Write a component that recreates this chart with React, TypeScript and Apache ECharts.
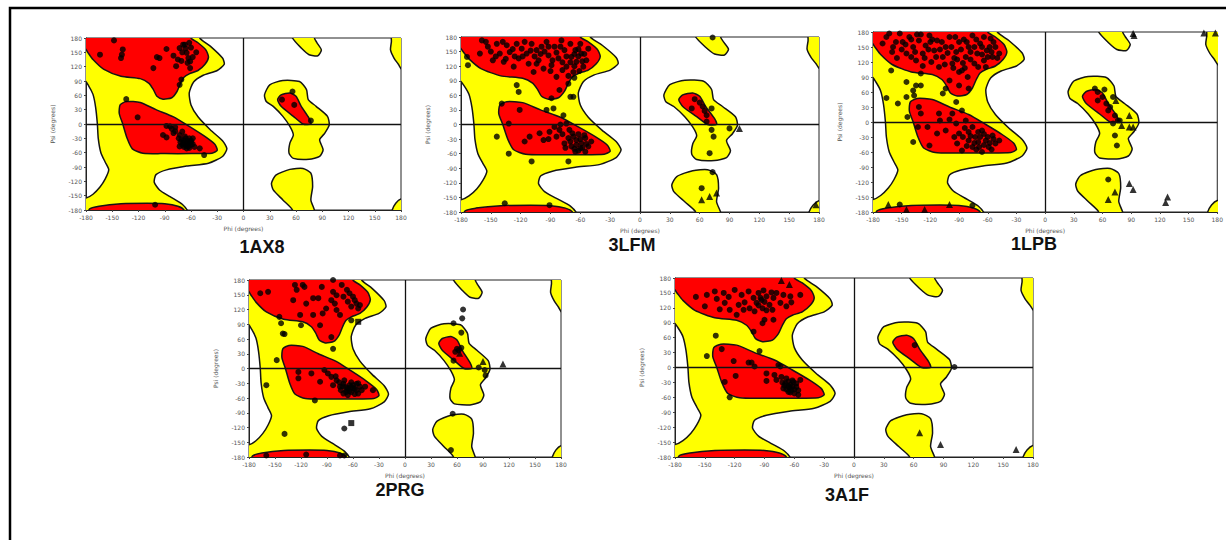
import React, { useEffect, useRef } from "react";
import * as echarts from "echarts";

// ---------- Ramachandran region outlines (phi, psi) ----------
const ALLOWED_LEFT: number[][] = [
  [-200, 200], [-52, 200], [-50, 180], [-38, 163], [-24, 138], [-22, 125], [-30, 112], [-46, 102],
  [-57, 88], [-62, 65], [-60, 40], [-52, 15], [-38, -12], [-24, -35], [-19, -52], [-24, -68],
  [-40, -82], [-65, -88], [-88, -96], [-100, -106], [-102, -122], [-96, -138], [-84, -152],
  [-70, -168], [-63, -185], [-62, -200], [-200, -200], [-200, -158], [-180, -155], [-172, -147],
  [-164, -132], [-158, -115], [-154, -96], [-158, -80], [-163, -60], [-166, -30], [-167, 0],
  [-169, 35], [-172, 62], [-177, 80], [-182, 92], [-200, 95],
];
const ALLOWED_TOP_R: number[][] = [
  [55, 200], [56, 180], [66, 159], [75, 145], [85, 143], [89, 155], [84, 170], [81, 180], [82, 200],
];
const ALLOWED_BOTTOM_R: number[][] = [
  [32, -124], [37, -107], [53, -95], [68, -93], [77, -103], [79, -131], [77, -159], [81, -180],
  [82, -200], [55, -200], [56, -180], [45, -159], [34, -138],
];
const ALLOWED_ALPHA_L: number[][] = [
  [24, 61], [30, 82], [45, 91], [64, 89], [72, 72], [74, 51], [83, 37], [96, 16], [98, -2],
  [93, -19], [87, -33], [91, -54], [87, -68], [75, -74], [57, -72], [52, -61], [53, -40],
  [57, -23], [53, -5], [45, 16], [34, 37], [26, 47],
];
const ALLOWED_CORNER_TOP: number[][] = [
  [200, 200], [170, 200], [169, 172], [168, 155], [172, 138], [177, 125], [182, 112], [200, 110],
];
const ALLOWED_CORNER_BOTTOM: number[][] = [
  [200, -200], [168, -200], [170, -180], [174, -166], [180, -157], [200, -152],
];
const CORE_BETA: number[][] = [
  [-200, 200], [-62, 200], [-60, 180], [-52, 170], [-43, 155], [-40, 140], [-44, 125], [-52, 112],
  [-62, 105], [-68, 98], [-72, 85], [-76, 68], [-82, 55], [-92, 52], [-99, 58], [-103, 72],
  [-108, 85], [-118, 95], [-140, 100], [-160, 115], [-172, 135], [-178, 150], [-182, 160], [-200, 162],
];
const CORE_ALPHA_R: number[][] = [
  [-141, 40], [-134, 47], [-118, 45], [-100, 30], [-80, 15], [-62, -5], [-45, -25], [-33, -42],
  [-30, -55], [-36, -61], [-60, -62], [-90, -62], [-115, -61], [-127, -52], [-133, -30],
  [-138, 0], [-142, 22],
];
const CORE_BOTTOM: number[][] = [
  [-178, -200], [-176, -178], [-165, -172], [-140, -167], [-110, -166], [-90, -167], [-75, -172],
  [-68, -180], [-66, -200],
];
const CORE_ALPHA_L: number[][] = [
  [39, 51], [43, 61], [53, 65], [60, 58], [66, 37], [75, 12], [77, 0], [68, 0], [57, 16], [43, 37],
];

// ---------- Residues per structure ----------
const TITLES = ["1AX8", "3LFM", "1LPB", "2PRG", "3A1F"];

const P1_CIRCLES: number[][] = [
  [-148, 175], [-164, 145], [-138, 156], [-139, 145], [-140, 138], [-103, 117], [-99, 140], [-96, 138],
  [-88, 157], [-80, 143], [-77, 121], [-73, 159], [-75, 135], [-71, 132], [-67, 166], [-65, 149],
  [-63, 138], [-61, 131], [-61, 117], [-54, 150], [-71, 93], [-73, 82], [-69, 166],
  [-70, 150], [-66, 158], [-60, 160], [-62, 170], [-58, 140], [-64, 128],
  [-134, 52], [-121, 14], [-101, -169], [-88, -4], [-84, -5], [-78, -7], [-92, -23], [-88, -28],
  [-80, -19], [-73, -23], [-71, -33], [-69, -40], [-65, -40], [-63, -47], [-61, -37], [-60, -44],
  [-67, -26], [-58, -30], [-73, -47], [-50, -51], [-45, -65], [-65, -51], [-70, -16], [-62, -30],
  [-66, -45], [-60, -38], [-68, -35], [-64, -42], [-70, -44], [-62, -50], [-58, -42], [-66, -30],
  [-72, -38], [-60, -35], [-56, -48], [-74, -30], [-78, -15], [-82, -10], [-64, -36], [-68, -48],
  [56, 68], [44, 51], [58, 40], [77, 7],
];
const P1_TRIANGLES: number[][] = [];

const P2_CIRCLES: number[][] = [
  [-174, 139], [-159, 173], [-161, 146], [-153, 160], [-148, 132], [-144, 166], [-141, 146], [-137, 129],
  [-134, 163], [-131, 149], [-127, 119], [-124, 166], [-122, 136], [-119, 156], [-114, 146], [-112, 125],
  [-109, 166], [-107, 108], [-104, 153], [-102, 132], [-99, 160], [-97, 115], [-94, 170], [-92, 142],
  [-89, 122], [-86, 160], [-84, 98], [-82, 136], [-81, 71], [-79, 173], [-76, 153], [-74, 119],
  [-72, 84], [-70, 166], [-69, 139], [-67, 108], [-65, 153], [-64, 129], [-60, 166], [-59, 146],
  [-57, 119], [-54, 132], [-52, 156], [-67, 57], [-89, 54], [-124, 81], [-122, 67], [-173, 122],
  [-118, 140], [-106, 140], [-96, 150], [-88, 132], [-78, 128], [-62, 140], [-56, 145], [-66, 120],
  [-150, 150], [-145, 140], [-138, 170], [-128, 155], [-126, 140], [-116, 170], [-110, 152], [-100, 145],
  [-92, 160], [-84, 148], [-80, 160], [-74, 140], [-70, 128], [-66, 145], [-62, 155], [-58, 130],
  [-61, 110], [-72, 100], [-66, 96], [-135, 135], [-155, 170], [-104, 125], [-90, 110], [-78, 112],
  [-139, 43], [-121, 30], [-132, 2], [-144, -25], [-132, -60], [-116, -35], [-109, -76], [-111, -25],
  [-101, -18], [-94, 30], [-87, 33], [-77, 19], [-74, 2], [-71, -11], [-67, -25], [-64, -32],
  [-59, -39], [-55, -28], [-52, -45], [-49, -35], [-60, -49], [-65, -56], [-72, -76], [-81, -11],
  [-84, -25], [-91, -15], [-97, -32], [-76, -39], [-69, -45], [-55, -56], [-62, -20], [-70, -35],
  [-64, -42], [-58, -48], [-66, -50], [-72, -28], [-78, -20], [-60, -30], [-54, -40], [-68, -18],
  [-75, -48], [-62, -54], [-86, -5], [-80, 0], [-92, -30], [-56, -22],
  [-136, -162], [-91, -166], [-70, 57],
  [55, 52], [52, 33], [63, 37], [67, 19], [72, 33], [67, 6], [72, -11], [74, -25], [70, -59],
  [90, -8], [73, -98], [62, -131], [73, 179], [60, 45], [65, 28],
];
const P2_TRIANGLES: number[][] = [
  [100, -8], [77, -141], [62, -155], [70, -148], [177, -165],
];

const P3_CIRCLES: number[][] = [
  [-166, 170], [-159, 150], [-152, 177], [-149, 160], [-145, 137], [-142, 170], [-138, 150], [-135, 123],
  [-132, 163], [-128, 137], [-125, 153], [-121, 173], [-119, 120], [-116, 143], [-113, 163], [-111, 110],
  [-107, 130], [-104, 150], [-100, 170], [-97, 117], [-93, 140], [-90, 160], [-87, 103], [-83, 130],
  [-80, 150], [-76, 173], [-74, 117], [-71, 137], [-68, 157], [-64, 123], [-61, 143], [-57, 167],
  [-55, 130], [-52, 150], [-48, 137], [-81, 90], [-80, 67], [-90, 73], [-163, 177], [-170, 157],
  [-130, 97], [-161, 103], [-100, 83], [-150, 145], [-140, 130], [-120, 160], [-110, 145], [-95, 128],
  [-85, 165], [-78, 140], [-66, 135], [-58, 150], [-130, 175], [-155, 128], [-105, 115], [-62, 110],
  [-156, 160], [-146, 155], [-136, 140], [-134, 175], [-126, 128], [-122, 145], [-118, 165], [-114, 130],
  [-108, 160], [-102, 138], [-98, 150], [-94, 170], [-92, 125], [-88, 145], [-86, 118], [-82, 160],
  [-78, 125], [-74, 150], [-72, 165], [-70, 110], [-66, 150], [-64, 170], [-60, 130], [-56, 140],
  [-54, 160], [-50, 128], [-90, 100], [-84, 108], [-96, 108], [-140, 165], [-160, 140], [-128, 112],
  [-166, 48], [-154, 37], [-145, 80], [-145, 50], [-138, 63], [-135, 73], [-130, 73], [-137, 53],
  [-107, 57], [-104, 67], [-93, 40], [-144, 10], [-138, -40],
  [-132, 30], [-130, 17], [-133, -10], [-123, -10], [-121, -47], [-111, 17], [-110, 3], [-104, -17],
  [-97, 17], [-93, -3], [-90, -23], [-87, 23], [-83, 3], [-80, -37], [-76, -10], [-73, -30],
  [-69, -50], [-66, -17], [-62, -37], [-59, -50], [-55, -27], [-52, -43], [-48, -37], [-92, -43],
  [-87, -57], [-76, -50], [-66, -60], [-113, -23], [-70, -40], [-60, -30], [-80, -20], [-64, -46],
  [-86, -30], [-82, -48], [-78, -28], [-74, -42], [-72, -55], [-68, -30], [-64, -24], [-58, -42],
  [-56, -55], [-54, -34], [-84, -12], [-95, -30], [-100, 5], [-70, -20],
  [-152, -165], [-76, -167],
  [52, 67], [55, 60], [62, 65], [71, 50], [55, 43], [64, 37], [66, 23], [73, 13], [78, 3], [71, -3],
  [76, 3], [73, -27], [75, -47], [66, -115], [60, 50], [68, 30],
];
const P3_TRIANGLES: number[][] = [
  [-164, -165], [-145, -175], [-126, -175], [-100, -165], [74, 43], [80, -7], [88, 13], [88, -10],
  [92, -10], [73, -140], [66, -155], [88, -123], [92, -135], [128, -150], [126, -161], [92, 177],
  [93, 173], [166, 178], [178, 178],
];

const P4_CIRCLES: number[][] = [
  [-167, 153], [-158, 156], [-145, 105], [-143, 92], [-141, 71], [-129, 139], [-127, 170], [-125, 160],
  [-121, 109], [-120, 88], [-118, 170], [-116, 166], [-114, 132], [-106, 143], [-106, 109], [-100, 143],
  [-98, 88], [-96, 166], [-95, 112], [-91, 122], [-85, 139], [-83, 180], [-83, 156], [-81, 132],
  [-79, 119], [-79, 149], [-75, 109], [-73, 170], [-71, 146], [-67, 160], [-66, 136], [-64, 153],
  [-62, 126], [-60, 146], [-58, 139], [-56, 132], [-54, 122], [-52, 129], [-62, 98], [-85, 64],
  [-83, 40], [-139, 70], [-148, 17], [-160, -34], [-123, -7], [-123, -20], [-108, -10], [-104, -65],
  [-139, -133], [-70, -122], [-160, -177], [-114, -175], [-75, -177], [-70, -177],
  [-93, -3], [-89, -10], [-85, -17], [-83, -34], [-79, -24], [-75, -37], [-71, -31], [-67, -44],
  [-64, -34], [-62, -48], [-58, -41], [-54, -51], [-52, -37], [-56, -31], [-66, -54], [-71, -51],
  [-98, -27], [-37, -44], [-46, -37], [-60, -40], [-68, -38], [-62, -28],
  [-74, -44], [-70, -24], [-66, -40], [-64, -46], [-60, -34], [-58, -52], [-72, -36], [-76, -28],
  [-68, -48], [-56, -44], [-62, -38], [-80, -16], [-50, -44], [-54, -30],
  [67, 120], [66, 102], [65, 73], [56, 92], [60, 40], [58, 34], [62, 37], [65, 42], [56, 16],
  [85, 2], [92, -3], [93, -14], [55, -92], [53, -166],
];
const P4_TRIANGLES: number[][] = [
  [63, 31], [90, 14], [113, 9],
];
const P4_SQUARES: number[][] = [
  [-54, 95], [-62, -111],
];

const P5_CIRCLES: number[][] = [
  [-159, 142], [-148, 146], [-150, 123], [-140, 153], [-138, 138], [-135, 117], [-131, 150], [-130, 130],
  [-126, 142], [-125, 116], [-120, 156], [-118, 106], [-116, 126], [-113, 146], [-111, 116], [-110, 131],
  [-106, 153], [-105, 119], [-101, 140], [-100, 113], [-98, 130], [-96, 150], [-93, 136], [-92, 119],
  [-91, 155], [-88, 143], [-85, 126], [-83, 151], [-82, 116], [-81, 140], [-78, 150], [-74, 130],
  [-71, 146], [-68, 123], [-64, 143], [-63, 131], [-54, 146], [-92, 89], [-90, 96], [-81, 96],
  [-101, 72], [-139, 64], [-96, 125], [-90, 132], [-88, 115], [-94, 140],
  [-148, 23], [-133, 37], [-121, 13], [-119, -17], [-130, -29], [-125, -60], [-106, 10], [-103, 10],
  [-100, 2], [-95, 33], [-88, -12], [-88, -27], [-76, 5], [-74, 2], [-80, -15], [-78, -25],
  [-73, -19], [-69, -32], [-68, -22], [-64, -35], [-63, -45], [-61, -29], [-58, -39], [-66, -49],
  [-60, -52], [-56, -55], [-71, -42], [-54, -25], [-65, -40], [-62, -38],
  [-70, -36], [-66, -28], [-60, -44], [-64, -50], [-58, -32], [-68, -44], [-62, -26], [-72, -30],
  [-56, -46], [-66, -38],
  [61, 45], [101, 1],
];
const P5_TRIANGLES: number[][] = [
  [-73, 175], [-65, 167], [66, -131], [87, -155], [163, -165],
];

const PLOT_CIRCLES = [P1_CIRCLES, P2_CIRCLES, P3_CIRCLES, P4_CIRCLES, P5_CIRCLES];
const PLOT_TRIANGLES = [P1_TRIANGLES, P2_TRIANGLES, P3_TRIANGLES, P4_TRIANGLES, P5_TRIANGLES];
const PLOT_SQUARES = [[], [], [], P4_SQUARES, []];

// ---------- Layout (pixels) ----------
const GRIDS = [
  { left: 86, top: 38, width: 315, height: 172, tx: 262, ty: 247 },
  { left: 461, top: 37, width: 358, height: 175, tx: 632, ty: 245 },
  { left: 873, top: 32, width: 346, height: 180, tx: 1034, ty: 244 },
  { left: 249, top: 280, width: 312, height: 177, tx: 400, ty: 490 },
  { left: 675, top: 278, width: 358, height: 179, tx: 847, ty: 495 },
];

const YELLOW = "#ffff00";
const RED = "#ff0000";
const REGIONS = [
  { poly: ALLOWED_LEFT, fill: YELLOW },
  { poly: ALLOWED_TOP_R, fill: YELLOW },
  { poly: ALLOWED_BOTTOM_R, fill: YELLOW },
  { poly: ALLOWED_ALPHA_L, fill: YELLOW },
  { poly: ALLOWED_CORNER_TOP, fill: YELLOW },
  { poly: ALLOWED_CORNER_BOTTOM, fill: YELLOW },
  { poly: CORE_BETA, fill: RED },
  { poly: CORE_ALPHA_R, fill: RED },
  { poly: CORE_BOTTOM, fill: RED },
  { poly: CORE_ALPHA_L, fill: RED },
];

function buildOption() {
  const grid: any[] = [];
  const xAxis: any[] = [];
  const yAxis: any[] = [];
  const series: any[] = [];
  const graphic: any[] = [];

  const labelStyle = { fontSize: 6, color: "#555", fontFamily: "DejaVu Sans" };
  const nameStyle = { fontSize: 6, color: "#555", fontFamily: "DejaVu Sans" };

  GRIDS.forEach((g, i) => {
    grid.push({
      left: g.left, top: g.top, width: g.width, height: g.height,
      show: true, backgroundColor: "#fff", borderColor: "#222", borderWidth: 1,
    });
    xAxis.push({
      gridIndex: i, type: "value", min: -180, max: 180, interval: 30,
      name: "Phi (degrees)", nameLocation: "middle", nameGap: 15, nameTextStyle: nameStyle,
      axisLine: { show: true, onZero: false, lineStyle: { color: "#222", width: 1 } },
      axisTick: { show: true, length: 2, lineStyle: { color: "#444" } },
      axisLabel: { ...labelStyle, margin: 4 },
      splitLine: { show: false },
    });
    yAxis.push({
      gridIndex: i, type: "value", min: -180, max: 180, interval: 30,
      name: "Psi (degrees)", nameLocation: "middle", nameGap: 31, nameTextStyle: nameStyle,
      axisLine: { show: true, onZero: false, lineStyle: { color: "#222", width: 1 } },
      axisTick: { show: true, length: 2, lineStyle: { color: "#444" } },
      axisLabel: { ...labelStyle, margin: 4 },
      splitLine: { show: false },
    });
    series.push({
      type: "custom",
      xAxisIndex: i, yAxisIndex: i,
      clip: true, silent: true, z: 1,
      data: REGIONS.map((r) => r.poly[0]),
      renderItem: (params: any, api: any) => {
        const r = REGIONS[params.dataIndex];
        const pts = r.poly.map((p) => api.coord(p));
        return {
          type: "polygon",
          shape: { points: pts, smooth: 0.22 },
          style: { fill: r.fill, stroke: "#151515", lineWidth: 1.5 },
        };
      },
    });
    series.push({
      type: "scatter",
      xAxisIndex: i, yAxisIndex: i, z: 3,
      symbol: "circle", symbolSize: 6,
      itemStyle: { color: "#000" },
      data: PLOT_CIRCLES[i],
      markLine: {
        silent: true, symbol: ["none", "none"], label: { show: false },
        lineStyle: { color: "#111", type: "solid", width: 1.3 },
        data: [{ xAxis: 0 }, { yAxis: 0 }],
      },
    });
    series.push({
      type: "scatter",
      xAxisIndex: i, yAxisIndex: i, z: 3,
      symbol: "triangle", symbolSize: 7,
      itemStyle: { color: "#000" },
      data: PLOT_TRIANGLES[i],
    });
    if (PLOT_SQUARES[i].length) {
      series.push({
        type: "scatter",
        xAxisIndex: i, yAxisIndex: i, z: 3,
        symbol: "rect", symbolSize: 6,
        itemStyle: { color: "#000" },
        data: PLOT_SQUARES[i],
      });
    }
    graphic.push({
      type: "text", x: g.tx, y: g.ty, z: 10,
      style: {
        text: TITLES[i], fill: "#111", fontSize: 18, fontWeight: "bold",
        fontFamily: "Liberation Sans", align: "center", verticalAlign: "middle",
      },
    });
  });

  graphic.push({
    type: "rect", z: 20, silent: true,
    shape: { x: 10, y: 8, width: 1240, height: 560 },
    style: { fill: "none", stroke: "#000", lineWidth: 2.5 },
  });

  return {
    animation: false,
    backgroundColor: "#fff",
    grid, xAxis, yAxis, series, graphic,
  };
}

export default function App() {
  const ref = useRef<HTMLDivElement>(null);
  useEffect(() => {
    if (!ref.current) return;
    const chart = echarts.init(ref.current, undefined, { renderer: "svg" });
    chart.setOption(buildOption() as any);
    return () => chart.dispose();
  }, []);
  return (
    <div
      ref={ref}
      style={{ position: "fixed", left: 0, top: 0, width: 1226, height: 540, background: "#fff" }}
    />
  );
}
